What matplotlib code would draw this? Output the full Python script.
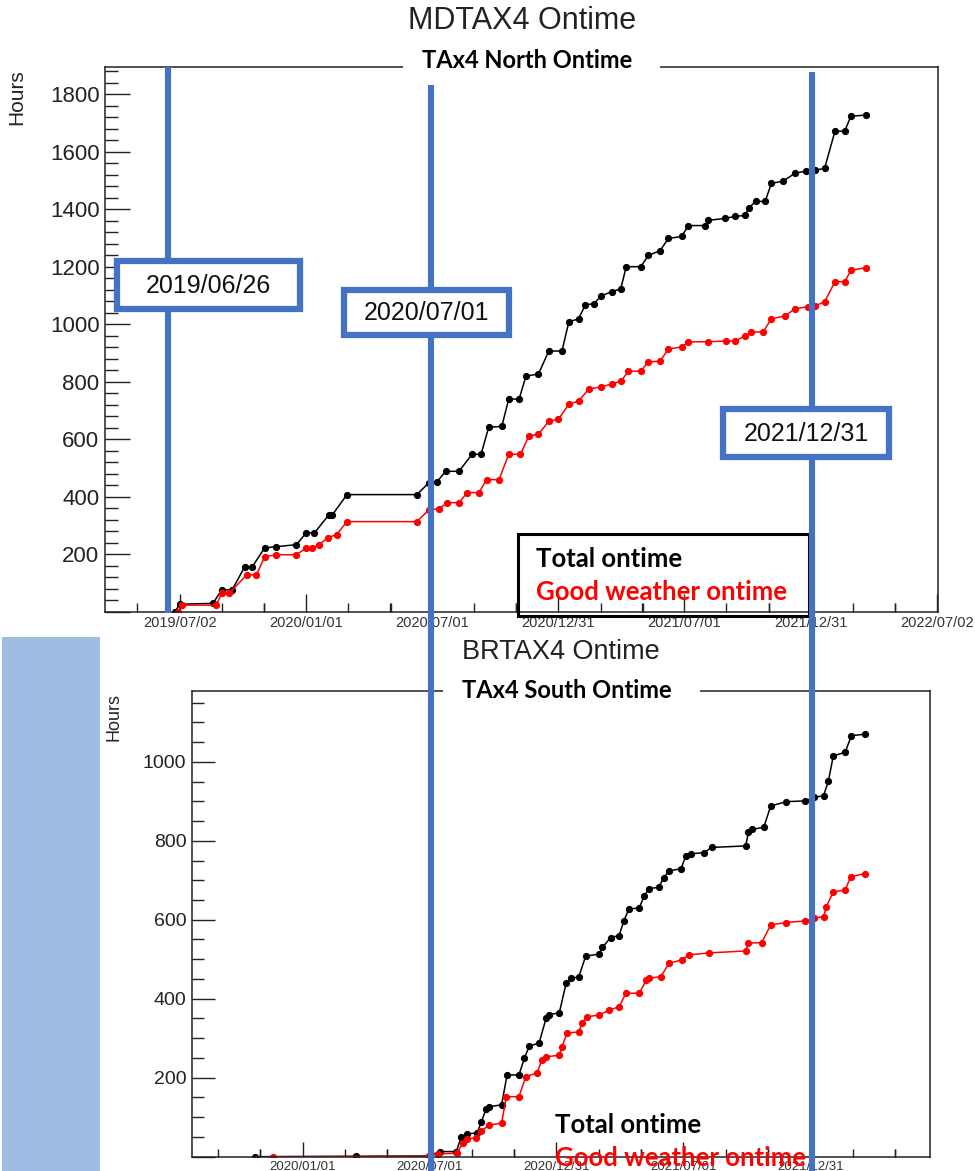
import matplotlib
matplotlib.use("Agg")
import matplotlib.pyplot as plt
import matplotlib.dates as mdates
from matplotlib.patches import Rectangle
from matplotlib.ticker import MultipleLocator

# values
north_total_dates = ['2019-06-25', '2019-07-02', '2019-08-19', '2019-09-01', '2019-09-16', '2019-10-04',
                     '2019-10-15', '2019-11-02', '2019-11-19', '2019-12-18', '2020-01-01', '2020-01-13',
                     '2020-02-03', '2020-02-08', '2020-02-29', '2020-06-09', '2020-06-27', '2020-07-08',
                     '2020-07-21', '2020-08-09', '2020-08-28', '2020-09-10', '2020-09-21', '2020-10-10',
                     '2020-10-20', '2020-11-04', '2020-11-14', '2020-12-02', '2020-12-17', '2021-01-05',
                     '2021-01-15', '2021-01-29', '2021-02-08', '2021-02-20', '2021-03-03', '2021-03-18',
                     '2021-03-31', '2021-04-08', '2021-04-29', '2021-05-10', '2021-05-27', '2021-06-08',
                     '2021-06-27', '2021-07-07', '2021-07-31', '2021-08-05', '2021-08-29', '2021-09-13',
                     '2021-09-27', '2021-10-02', '2021-10-12', '2021-10-26', '2021-11-04', '2021-11-21',
                     '2021-12-08', '2021-12-24', '2022-01-06', '2022-01-20', '2022-02-04', '2022-02-18',
                     '2022-02-27', '2022-03-21']
north_total_hours = [0, 27, 30, 77, 77, 157, 157, 223, 227, 234, 275, 275, 338, 338, 408, 408, 450, 452,
                     489, 489, 548, 548, 642, 645, 740, 740, 820, 827, 907, 907, 1008, 1019, 1068, 1071,
                     1099, 1113, 1123, 1200, 1200, 1239, 1256, 1298, 1305, 1343, 1343, 1361, 1368, 1375,
                     1378, 1403, 1427, 1427, 1490, 1497, 1525, 1532, 1535, 1542, 1671, 1671, 1723, 1727]

north_good_dates = ['2019-06-29', '2019-07-05', '2019-08-24', '2019-09-01', '2019-09-12', '2019-10-07',
                    '2019-10-21', '2019-11-02', '2019-11-19', '2019-12-18', '2020-01-01', '2020-01-10',
                    '2020-01-20', '2020-02-01', '2020-02-14', '2020-02-29', '2020-06-09', '2020-06-27',
                    '2020-07-11', '2020-07-23', '2020-08-09', '2020-08-21', '2020-09-07', '2020-09-18',
                    '2020-10-06', '2020-10-20', '2020-11-06', '2020-11-18', '2020-12-02', '2020-12-17',
                    '2020-12-31', '2021-01-15', '2021-01-29', '2021-02-13', '2021-03-02', '2021-03-18',
                    '2021-04-01', '2021-04-11', '2021-04-29', '2021-05-10', '2021-05-27', '2021-06-08',
                    '2021-06-27', '2021-07-07', '2021-08-05', '2021-08-31', '2021-09-13', '2021-09-27',
                    '2021-10-06', '2021-10-23', '2021-11-04', '2021-11-24', '2021-12-08', '2021-12-27',
                    '2022-01-06', '2022-01-20', '2022-02-04', '2022-02-18', '2022-02-27', '2022-03-21']
north_good_hours = [0, 24, 24, 66, 66, 129, 129, 192, 199, 199, 223, 223, 234, 258, 269, 314, 314, 356,
                    358, 380, 380, 415, 415, 460, 460, 548, 548, 611, 618, 663, 670, 722, 733, 775, 782,
                    792, 803, 837, 837, 869, 872, 914, 921, 939, 939, 942, 942, 960, 973, 973, 1019, 1029,
                    1054, 1061, 1064, 1078, 1148, 1148, 1187, 1197]

south_total_dates = ['2019-10-24', '2020-03-18', '2020-07-01', '2020-07-16', '2020-08-09', '2020-08-16',
                     '2020-08-25', '2020-09-08', '2020-09-14', '2020-09-21', '2020-09-25', '2020-10-13',
                     '2020-10-21', '2020-11-07', '2020-11-15', '2020-11-22', '2020-12-06', '2020-12-16',
                     '2020-12-20', '2021-01-04', '2021-01-14', '2021-01-21', '2021-02-01', '2021-02-11',
                     '2021-03-02', '2021-03-07', '2021-03-19', '2021-03-31', '2021-04-07', '2021-04-14',
                     '2021-04-29', '2021-05-06', '2021-05-13', '2021-05-27', '2021-06-03', '2021-06-11',
                     '2021-06-28', '2021-07-05', '2021-07-12', '2021-07-31', '2021-08-11', '2021-09-29',
                     '2021-10-03', '2021-10-08', '2021-10-25', '2021-11-04', '2021-11-26', '2021-12-24',
                     '2022-01-05', '2022-01-19', '2022-01-26', '2022-02-02', '2022-02-19', '2022-02-28',
                     '2022-03-20']
south_total_hours = [0, 1, 2, 13, 13, 50, 58, 60, 88, 122, 127, 131, 207, 207, 250, 280, 288, 350, 360,
                     364, 440, 452, 455, 508, 513, 530, 555, 560, 598, 627, 630, 660, 679, 682, 706, 724,
                     729, 762, 767, 770, 783, 787, 821, 829, 834, 888, 899, 901, 910, 914, 952, 1015, 1024,
                     1066, 1070]

south_good_dates = ['2019-11-20', '2020-07-01', '2020-07-13', '2020-08-10', '2020-08-18', '2020-08-25',
                    '2020-09-07', '2020-09-14', '2020-09-25', '2020-10-13', '2020-10-20', '2020-11-07',
                    '2020-11-17', '2020-12-03', '2020-12-10', '2020-12-16', '2021-01-04', '2021-01-08',
                    '2021-01-15', '2021-02-01', '2021-02-06', '2021-02-13', '2021-03-02', '2021-03-17',
                    '2021-03-31', '2021-04-10', '2021-04-29', '2021-05-09', '2021-05-13', '2021-05-30',
                    '2021-06-11', '2021-06-29', '2021-07-09', '2021-08-07', '2021-09-29', '2021-10-03',
                    '2021-10-22', '2021-11-04', '2021-11-26', '2021-12-24', '2022-01-05', '2022-01-19',
                    '2022-01-23', '2022-02-02', '2022-02-19', '2022-02-27', '2022-03-20']
south_good_hours = [0, 1, 7, 9, 35, 45, 48, 65, 80, 85, 152, 152, 203, 212, 245, 253, 257, 278, 313, 316,
                    338, 354, 359, 371, 380, 414, 414, 447, 452, 456, 490, 498, 511, 516, 521, 541, 542,
                    587, 593, 597, 604, 608, 633, 671, 675, 709, 717]

time_ticks = ['2019-07-02', '2020-01-01', '2020-07-01', '2020-12-31', '2021-07-01', '2021-12-31', '2022-07-02']
north_xlim = ['2019-03-16', '2022-07-03']
south_xlim = ['2019-07-26', '2022-06-21']

marker_labels = ['2019/06/26', '2020/07/01', '2021/12/31']

BLUE = '#4472C4'
W, H = 975, 1171
fig = plt.figure(figsize=(W / 100, H / 100), dpi=100)


def panel(rect, xlim, ylim, major_y, minor_y, ylen, xlen, ysize, xsize):
    ax = fig.add_axes(rect)
    maj = mdates.datestr2num(time_ticks)
    step = (maj[1] - maj[0]) / 3.0
    minor = []
    for m in maj:
        minor += [m - step, m + step, m + 2 * step]
    ax.set_xticks(maj)
    ax.set_xticks(minor, minor=True)
    ax.xaxis.set_major_formatter(mdates.DateFormatter('%Y/%m/%d'))
    ax.set_xlim(mdates.datestr2num(xlim))
    ax.set_ylim(ylim)
    ax.yaxis.set_major_locator(MultipleLocator(major_y))
    ax.yaxis.set_minor_locator(MultipleLocator(minor_y))
    ax.yaxis.set_major_formatter(plt.FuncFormatter(lambda v, p: '' if v == 0 else '%d' % v))
    ax.tick_params(which='both', direction='in', top=False, right=False, width=1.0, color='#222')
    ax.tick_params(axis='y', which='major', length=ylen[0], pad=4, labelsize=ysize, labelcolor='#222')
    ax.tick_params(axis='y', which='minor', length=ylen[1])
    ax.tick_params(axis='x', which='major', length=xlen[0], pad=3, labelsize=xsize, labelcolor='#333')
    ax.tick_params(axis='x', which='minor', length=xlen[1])
    for s in ax.spines.values():
        s.set_linewidth(1.1)
        s.set_color('#222')
    for lab in ax.get_xticklabels() + ax.get_yticklabels():
        lab.set_family('Liberation Sans')
    return ax


top = panel([105 / W, 1 - 612 / H, 833 / W, 545 / H], north_xlim, (0, 1894), 200, 40,
            (18, 9.4), (13, 6.5), 16, 10.5)
bot = panel([192 / W, 1 - 1156.7 / H, 738 / W, 466 / H], south_xlim, (0, 1180), 200, 50,
            (16.5, 8.6), (11, 5.8), 14, 9.5)

for ax, d1, v1, d2, v2 in [(top, north_total_dates, north_total_hours, north_good_dates, north_good_hours),
                           (bot, south_total_dates, south_total_hours, south_good_dates, south_good_hours)]:
    ax.plot(mdates.datestr2num(d1), v1, color='black', lw=1.1, marker='o', ms=4.2)
    ax.plot(mdates.datestr2num(d2), v2, color='red', lw=1.1, marker='o', ms=4.2)

top.set_ylabel('Hours', fontsize=15, family='Liberation Sans', color='#222')
top.yaxis.set_label_coords(-0.094, 0.945)
bot.set_ylabel('Hours', fontsize=13, family='Liberation Sans', color='#222')
bot.yaxis.set_label_coords(-0.094, 0.943)

# annotation layer in pixel coordinates
ov = fig.add_axes([0, 0, 1, 1], zorder=10)
ov.set_xlim(0, W)
ov.set_ylim(H, 0)
ov.axis('off')

ov.add_patch(Rectangle((2, 637), 98, 534, fc='#9DBDE3', ec='none'))

ov.text(522, 21, 'MDTAX4 Ontime', fontsize=22, color='#222', family='Liberation Sans', ha='center', va='center')
ov.text(561, 652, 'BRTAX4 Ontime', fontsize=19.5, color='#222', family='Liberation Sans', ha='center', va='center')
ov.add_patch(Rectangle((403, 60), 257, 14, fc='white', ec='none', zorder=2))
ov.add_patch(Rectangle((443, 684), 257, 14, fc='white', ec='none', zorder=2))
ov.text(527, 60, 'TAx4 North Ontime', fontsize=17, fontweight='bold', family='Lato', ha='center', va='center', zorder=3)
ov.text(567, 691, 'TAx4 South Ontime', fontsize=17, fontweight='bold', family='Lato', ha='center', va='center', zorder=3)

# legends
ov.add_patch(Rectangle((517.5, 533.5), 291, 82, fill=False, ec='black', lw=2.2, zorder=3))
ov.text(536, 559, 'Total ontime', fontsize=18.5, fontweight='bold', family='Lato', color='black', va='center', zorder=4)
ov.text(536, 592, 'Good weather ontime', fontsize=18.5, fontweight='bold', family='Lato', color='red', va='center', zorder=4)
ov.text(555, 1125, 'Total ontime', fontsize=18.5, fontweight='bold', family='Lato', color='black', va='center', zorder=4)
ov.text(555, 1158, 'Good weather ontime', fontsize=18.5, fontweight='bold', family='Lato', color='red', va='center', zorder=4)

# vertical date markers
for x, y0, y1 in [(168, 67, 613), (431, 85, H), (811.5, 72, H)]:
    ov.plot([x, x], [y0, y1], color=BLUE, lw=4.4, solid_capstyle='butt', zorder=5)

boxes = [(117, 261, 183, 48), (344, 290, 165, 45), (723, 409, 166, 48)]
for (bx, by, bw, bh), lab in zip(boxes, marker_labels):
    ov.add_patch(Rectangle((bx, by), bw, bh, fc='white', ec=BLUE, lw=4.5, zorder=6))
    ov.text(bx + bw / 2, by + bh / 2 + 1, lab, fontsize=18, family='Liberation Sans', color='#111',
            ha='center', va='center', zorder=7)

fig.savefig('out.png', dpi=100)
